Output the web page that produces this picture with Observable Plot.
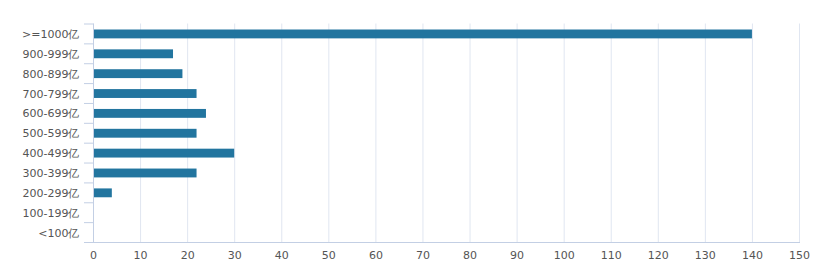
<!DOCTYPE html>
<html>
<head>
<meta charset="utf-8">
<script src="https://cdn.jsdelivr.net/npm/d3@7"></script>
<script src="https://cdn.jsdelivr.net/npm/@observablehq/plot@0.6"></script>
<style>
  html, body { margin: 0; padding: 0; background: #fff; }
  svg { display: block; }
</style>
</head>
<body>
<div id="chart"></div>
<script>
const categories = [">=1000亿", "900-999亿", "800-899亿", "700-799亿", "600-699亿", "500-599亿", "400-499亿", "300-399亿", "200-299亿", "100-199亿", "<100亿"];
const values = [140, 17, 19, 22, 24, 22, 30, 22, 4, 0, 0];
const xTicks = [0, 10, 20, 30, 40, 50, 60, 70, 80, 90, 100, 110, 120, 130, 140, 150];

const data = categories.map((c, i) => ({category: c, value: values[i]}));

const axisColor = "#c3cfe4";
const textColor = "#555";
const height = 274;
const marginTop = 23.5, marginBottom = 32;
const step = (height - marginTop - marginBottom) / categories.length;

const chart = Plot.plot({
  width: 818,
  height,
  marginLeft: 93,
  marginRight: 19,
  marginTop,
  marginBottom,
  style: {fontFamily: "'DejaVu Sans', sans-serif", fontSize: "11px", color: textColor, background: "#fff"},
  x: {domain: [0, 150]},
  y: {domain: categories, padding: 0, round: false},
  marks: [
    Plot.gridX(xTicks, {stroke: "#e0e6f1", strokeOpacity: 1}),
    Plot.barX(data, {x: "value", y: "category", fill: "#22759f", insetTop: 6, insetBottom: 5}),
    Plot.frame({anchor: "left", stroke: axisColor}),
    Plot.frame({anchor: "bottom", stroke: axisColor}),
    Plot.axisY({tickSize: 0, tickPadding: 14, fill: textColor, label: null, fontSize: 11, dy: 0.5}),
    Plot.axisY({tickSize: 9, tickFormat: () => "", stroke: axisColor, strokeOpacity: 1, dy: -step / 2, label: null}),
    Plot.axisY([categories[categories.length - 1]], {tickSize: 9, tickFormat: () => "", stroke: axisColor, strokeOpacity: 1, dy: step / 2, label: null}),
    Plot.axisX(xTicks, {tickSize: 0, tickPadding: 9, fill: textColor, label: null, fontSize: 11})
  ]
});
document.getElementById("chart").appendChild(chart);
</script>
</body>
</html>
